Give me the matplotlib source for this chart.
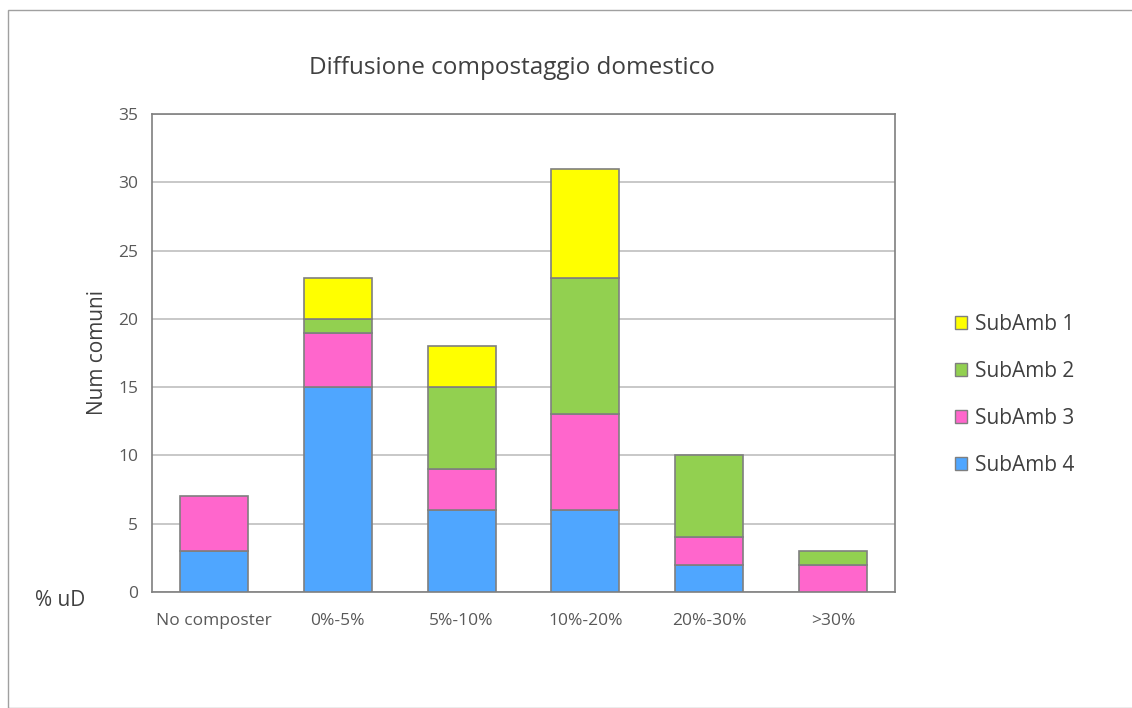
import matplotlib
matplotlib.use("Agg")
import matplotlib.pyplot as plt
from matplotlib.patches import Rectangle, Patch
import numpy as np

plt.rcParams['font.family'] = ['Open Sans', 'DejaVu Sans']

categories = ["No composter", "0%-5%", "5%-10%", "10%-20%", "20%-30%", ">30%"]
subamb4 = [3, 15, 6, 6, 2, 0]
subamb3 = [4, 4, 3, 7, 2, 2]
subamb2 = [0, 1, 6, 10, 6, 1]
subamb1 = [0, 3, 3, 8, 0, 0]
series_names = ["SubAmb 4", "SubAmb 3", "SubAmb 2", "SubAmb 1"]
colors = ["#4FA6FF", "#FF66CC", "#92D050", "#FFFF00"]
yticks = [0, 5, 10, 15, 20, 25, 30, 35]

W, H = 1132, 708
fig = plt.figure(figsize=(W/100, H/100), dpi=100)
fig.patches.append(Rectangle((8/W, 0), 2, (H-10)/H, transform=fig.transFigure,
                             fill=False, edgecolor="#A0A0A0", linewidth=1.0))
ax = fig.add_axes([152/W, 1-592/H, (895-152)/W, (592-114)/H])

x = np.arange(len(categories))
bottom = np.zeros(len(categories))
handles = []
for vals, name, c in zip([subamb4, subamb3, subamb2, subamb1], series_names, colors):
    v = np.array(vals, dtype=float)
    mask = v > 0
    ax.bar(x[mask], v[mask], bottom=bottom[mask], width=0.55, color=c,
           edgecolor="#7F7F7F", linewidth=1.2, zorder=3)
    bottom += v
    handles.append(Patch(facecolor=c, edgecolor="#7F7F7F", label=name))

ax.set_xlim(-0.5, len(categories)-0.5)
ax.set_ylim(0, 35)
ax.set_yticks(yticks)
ax.set_xticks(x)
ax.set_xticklabels(categories)
ax.tick_params(axis='both', length=0, labelsize=12.5, colors="#595959")
ax.tick_params(axis='x', pad=15)
ax.tick_params(axis='y', pad=10)
ax.grid(axis='y', color="#BFBFBF", linewidth=1.2, zorder=0)
for s in ax.spines.values():
    s.set_color("#7F7F7F")
    s.set_linewidth(1.2)

ax.set_ylabel("Num comuni", fontsize=15, color="#404040", labelpad=7)
fig.text(512/W, 1-68/H, "Diffusione compostaggio domestico",
         ha="center", va="center", fontsize=17.5, color="#404040")
fig.text(35/W, 1-600/H, "% uD", ha="left", va="center", fontsize=15, color="#404040")

leg = fig.legend(handles=handles[::-1], loc="center left",
                 bbox_to_anchor=(936/W, 1-395/H), frameon=False,
                 fontsize=15, labelcolor="#404040", handlelength=0.6,
                 handleheight=0.6, handletextpad=0.35, labelspacing=1.25)

fig.savefig("out.png", dpi=100)
